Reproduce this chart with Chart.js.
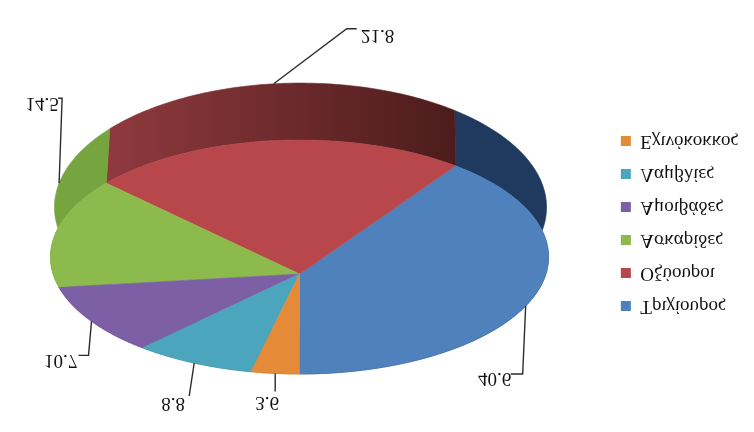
<!DOCTYPE html>
<html>
<head>
<meta charset="utf-8">
<script src="https://cdn.jsdelivr.net/npm/chart.js@4/dist/chart.umd.js"></script>
<style>
  html, body { margin: 0; background: #fff; }
  /* the reference is a picture printed upside down, text included */
  #chart { display: block; transform: scaleY(-1); filter: blur(0.6px); }
</style>
</head>
<body>
<canvas id="chart" width="754" height="432"></canvas>
<script>
const categories = ['Τριχίουρος', 'Οξύουροι', 'Ασκαρίδες', 'Αμοιβάδες', 'Λαμβλίες', 'Εχινόκοκκος'];
const values = [40.6, 21.8, 14.5, 10.7, 8.8, 3.6];
const faceColors = ['#4f81bd', '#b8474b', '#8dba4c', '#7d5fa6', '#4aa5bd', '#e58a37'];
const wallColors = ['#1f3a5e', 'red-gradient', '#76a540', '#5e4680', '#357a8d', '#a96424'];

// 3d look: perspective projection of the unit circle, in canvas pixels
const view = { cx: 299.5, apexY: 158, a: 154.3, c: 0.1453, rx: 246.4, depth: 48.7, shrink: 0.988, wallShift: 1 };

// leader line and text, relative to the rim point of each slice (canvas y is up on screen)
const leaders = [
  { line: [[-3, -68], [-15, -68]], text: [-31, -72] },
  { line: [[73, 55], [83, 55]], text: [104, 49] },
  { line: [[3, 85], [-1, 85]], text: [-17, 80] },
  { line: [[-3, -34], [-13, -34]], text: [-31, -39] },
  { line: [[-5, -33]], text: [-21, -40] },
  { line: [[0, -18]], text: [-8, -29] },
];

function project(angle, raised) {
  const theta = angle + Math.PI / 2;
  const u = Math.sin(theta), v = Math.cos(theta);
  const w = 1 + view.c * v;
  const dx = view.rx * u / w * (raised ? view.shrink : 1) + (raised ? view.wallShift : 0);
  const y = 432 - (view.a * v + (432 - view.apexY)) / w + (raised ? view.depth / w : 0);
  return { x: view.cx + dx, y };
}

function rimPoints(arc, raised) {
  const { startAngle, endAngle } = arc.getProps(['startAngle', 'endAngle'], true);
  const steps = Math.max(8, Math.ceil((endAngle - startAngle) * 60));
  const pts = [];
  for (let i = 0; i <= steps; i++) {
    pts.push(project(startAngle + (endAngle - startAngle) * i / steps, raised));
  }
  return pts;
}

function midAngle(arc) {
  const { startAngle, endAngle } = arc.getProps(['startAngle', 'endAngle'], true);
  return (startAngle + endAngle) / 2;
}

// slices are the library's arcs, only their outline goes through the projection
Chart.ArcElement.prototype.draw = function (ctx) {
  const pts = rimPoints(this, false);
  ctx.save();
  ctx.beginPath();
  ctx.moveTo(view.cx, view.apexY);
  pts.forEach((p) => ctx.lineTo(p.x, p.y));
  ctx.closePath();
  ctx.fillStyle = this.options.backgroundColor;
  ctx.strokeStyle = this.options.backgroundColor;
  ctx.lineWidth = 0.6;
  ctx.fill();
  ctx.stroke();
  ctx.restore();
};

const wallPlugin = {
  id: 'wall',
  beforeDatasetsDraw(chart) {
    const { ctx } = chart;
    const redGradient = ctx.createLinearGradient(108, 0, 456, 0);
    redGradient.addColorStop(0, '#8f393d');
    redGradient.addColorStop(1, '#4c1c1c');
    chart.getDatasetMeta(0).data.forEach((arc, i) => {
      const low = rimPoints(arc, false);
      const high = rimPoints(arc, true).reverse();
      const color = wallColors[i] === 'red-gradient' ? redGradient : wallColors[i];
      ctx.beginPath();
      low.concat(high).forEach((p, k) => (k ? ctx.lineTo(p.x, p.y) : ctx.moveTo(p.x, p.y)));
      ctx.closePath();
      ctx.fillStyle = color;
      ctx.strokeStyle = color;
      ctx.lineWidth = 0.6;
      ctx.fill();
      ctx.stroke();
    });
  },
};

const labelPlugin = {
  id: 'valueLabels',
  afterDatasetsDraw(chart) {
    const { ctx } = chart;
    ctx.save();
    ctx.strokeStyle = '#2b2b2b';
    ctx.fillStyle = '#111';
    ctx.lineWidth = 1.4;
    ctx.font = '19px "Liberation Serif"';
    ctx.textAlign = 'center';
    ctx.textBaseline = 'middle';
    chart.getDatasetMeta(0).data.forEach((arc, i) => {
      const angle = midAngle(arc);
      // slices at the back start from the top of their wall
      const start = project(angle, i === 1 || i === 2);
      const leader = leaders[i];
      ctx.beginPath();
      ctx.moveTo(start.x, start.y);
      leader.line.forEach(([dx, dy]) => ctx.lineTo(start.x + dx, start.y + dy));
      ctx.stroke();
      ctx.fillText(values[i].toFixed(1), start.x + leader.text[0], start.y + leader.text[1]);
    });
    ctx.restore();
  },
};

new Chart(document.getElementById('chart'), {
  type: 'pie',
  data: {
    labels: categories,
    datasets: [{ data: values, backgroundColor: faceColors, borderWidth: 0 }],
  },
  plugins: [wallPlugin, labelPlugin],
  options: {
    responsive: false,
    animation: false,
    layout: { padding: { right: 6, bottom: 15 } },
    plugins: {
      tooltip: { enabled: false },
      legend: {
        position: 'right',
        labels: {
          boxWidth: 10,
          boxHeight: 10,
          padding: 14,
          color: '#111',
          font: { family: '"Liberation Serif"', size: 19 },
        },
      },
    },
  },
});
</script>
</body>
</html>
